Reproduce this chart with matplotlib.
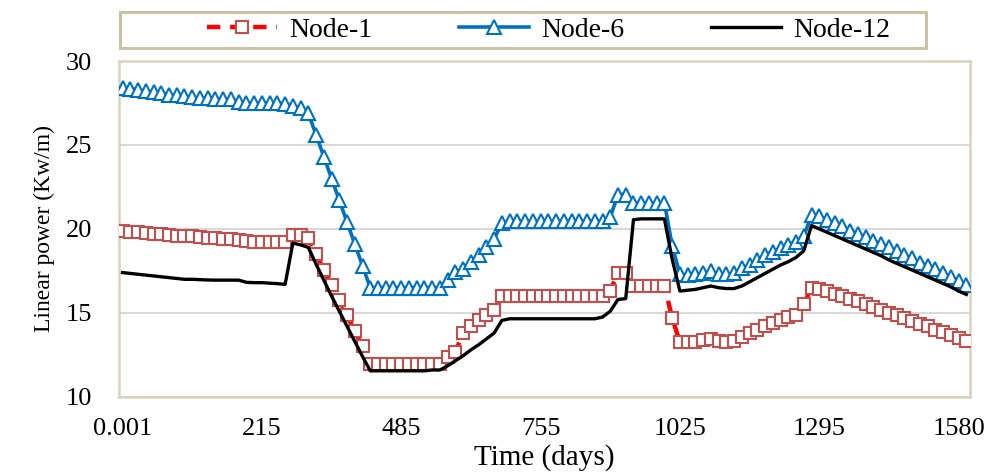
import matplotlib
matplotlib.use("Agg")
import matplotlib.pyplot as plt
from matplotlib.patches import Rectangle

plt.rcParams["font.family"] = ["Liberation Serif", "DejaVu Serif"]

# category labels shown on the time axis (one label every 18 time steps)
day_labels = ["0.001", "215", "485", "755", "1025", "1295", "1580"]
label_step = 18

node1 = [
    19.85, 19.8, 19.8, 19.75, 19.7, 19.7, 19.65, 19.6, 19.6, 19.55, 19.5,
    19.45, 19.45, 19.4, 19.4, 19.35, 19.3, 19.25, 19.25, 19.25, 19.25, 19.25,
    19.65, 19.65, 19.45,
    18.5, 17.55, 16.65, 15.75, 14.85, 13.9, 13.0, 11.95,
    11.95, 11.95, 11.95, 11.95, 11.95, 11.95, 11.95, 11.95, 11.95,
    12.35, 12.7, 13.8, 14.2, 14.6, 14.9, 15.2,
    16.0, 16.0, 16.0, 16.0, 16.0, 16.0, 16.0, 16.0, 16.0, 16.0, 16.0, 16.0,
    16.0, 16.0,
    16.3, 17.4, 17.4,
    16.6, 16.6, 16.6, 16.6, 16.6,
    14.7,
    13.25, 13.25, 13.25, 13.4, 13.45, 13.3, 13.25, 13.3, 13.55, 13.8, 14.0,
    14.2, 14.4, 14.6, 14.75, 14.9, 15.5,
    16.5, 16.45,
    16.3, 16.15, 16.0, 15.85, 15.7, 15.5, 15.35, 15.2, 15.0, 14.85, 14.7,
    14.5, 14.35, 14.2, 14.0, 13.85, 13.7, 13.5, 13.35,
]

node6 = [
    28.4, 28.35, 28.3, 28.2, 28.15, 28.1, 28.0, 27.95, 27.9, 27.85, 27.8,
    27.8, 27.75, 27.75, 27.75,
    27.55, 27.5, 27.5, 27.5, 27.5, 27.5, 27.45,
    27.3, 27.2,
    26.9, 25.6, 24.3, 23.0, 21.7, 20.4, 19.1, 17.8, 16.5,
    16.5, 16.5, 16.5, 16.5, 16.5, 16.5, 16.5, 16.5, 16.5,
    16.95, 17.45, 17.6, 18.05, 18.45, 18.9, 19.4, 20.35,
    20.45, 20.45, 20.45, 20.45, 20.45, 20.45, 20.45, 20.45, 20.45, 20.45,
    20.45, 20.45, 20.45,
    20.7, 22.05, 22.05,
    21.55, 21.55, 21.55, 21.55, 21.55,
    19.0,
    17.3, 17.25, 17.3, 17.35, 17.5, 17.3, 17.3, 17.35, 17.65, 17.85, 18.15,
    18.45, 18.65, 18.85, 19.05, 19.25, 19.55,
    20.85, 20.75,
    20.55, 20.35, 20.15, 19.9, 19.7, 19.5, 19.3, 19.1, 18.9, 18.7, 18.45,
    18.25, 18.0, 17.8, 17.6, 17.35, 17.15, 16.9, 16.65,
]

node12 = [
    17.4, 17.35, 17.3, 17.25, 17.2, 17.15, 17.1, 17.05, 17.0, 17.0, 16.98,
    16.96, 16.95, 16.95, 16.95, 16.95, 16.82, 16.8, 16.8, 16.77, 16.74, 16.7,
    19.15, 19.05, 18.9, 17.9, 16.95, 16.0, 15.1, 14.2, 13.3, 12.4, 11.55,
    11.55, 11.55, 11.55, 11.55, 11.55, 11.55, 11.55, 11.6, 11.6,
    11.85, 12.15, 12.45, 12.8, 13.1, 13.45, 13.8, 14.55,
    14.65, 14.65, 14.65, 14.65, 14.65, 14.65, 14.65, 14.65, 14.65, 14.65,
    14.65, 14.65,
    14.75, 15.1, 15.8, 15.85,
    20.55, 20.6, 20.6, 20.6, 20.6,
    18.2,
    16.3, 16.35, 16.4, 16.5, 16.6, 16.5, 16.45, 16.45, 16.6, 16.85, 17.1,
    17.35, 17.6, 17.85, 18.05, 18.3, 18.7,
    20.2,
    20.0, 19.8, 19.6, 19.4, 19.2, 19.0, 18.8, 18.6, 18.4, 18.15, 17.95,
    17.75, 17.55, 17.35, 17.15, 16.95, 16.75, 16.55, 16.3, 16.1,
]

x = list(range(len(node6)))
frame_color = "#D9D3BC"

fig = plt.figure(figsize=(9.89, 4.73), dpi=100)
ax = fig.add_axes([0.12, 0.161, 0.861, 0.71])

ax.plot(x, node1, color="#FF0000", lw=3.2, dashes=(3, 2.2),
        marker="s", ms=8.5, mfc="white", mec="#C0504D", mew=1.5, label="Node-1", zorder=3)
ax.plot(x, node6, color="#0070C0", lw=2.6,
        marker="^", ms=9.5, mfc="white", mec="#0070C0", mew=1.5, label="Node-6", zorder=4)
ax.plot(x, node12, color="black", lw=2.4, label="Node-12", zorder=5)

ax.set_xlim(-0.5, len(x) - 0.5)
ax.set_ylim(10, 30)
ax.set_yticks([10, 15, 20, 25, 30])
ax.set_xticks(range(0, len(x), label_step))
ax.set_xticklabels(day_labels)
ax.tick_params(axis="both", length=0, labelsize=19)
ax.tick_params(axis="x", pad=15)
ax.tick_params(axis="y", pad=19)
ax.grid(axis="y", color="#D9D9D9", lw=1.5)
ax.set_axisbelow(True)
for side in ax.spines.values():
    side.set_color(frame_color)
    side.set_linewidth(1.8)

fig.text(0.55, 1 - 458 / 473, "Time (days)", fontsize=21, ha="center", va="center")
ax.set_ylabel("Linear power (Kw/m)", fontsize=17, labelpad=8)

# legend box along the top of the figure
fig.patches.append(Rectangle((0.121, 0.899), 0.815, 0.075, transform=fig.transFigure,
                             fill=False, edgecolor="#C9C3A3", lw=2.2))
fig.legend(loc="center", bbox_to_anchor=(0.5546, 0.936), ncol=3, frameon=False,
           fontsize=20, handlelength=2.55, handletextpad=0.43, columnspacing=3.1)

fig.savefig("out.png", dpi=100)
